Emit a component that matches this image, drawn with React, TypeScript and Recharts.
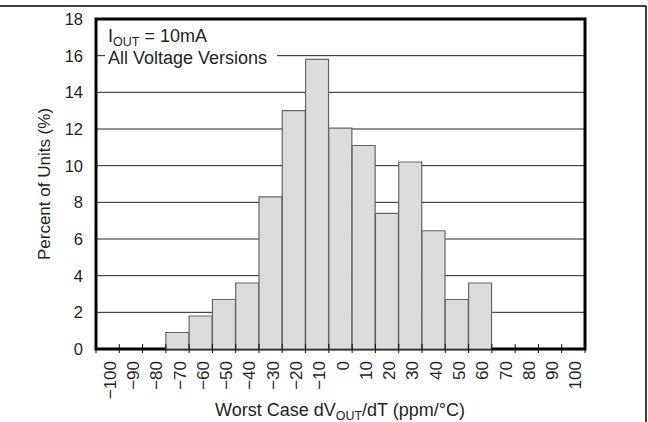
import React from 'react';
import { BarChart, Bar, XAxis, YAxis, CartesianGrid, ReferenceArea } from 'recharts';

// Bin centres (ppm/°C) and percent of units per bin
const binCenters = [-100, -90, -80, -70, -60, -50, -40, -30, -20, -10, 0, 10, 20, 30, 40, 50, 60, 70, 80, 90, 100];
const percentUnits = [0, 0, 0, 0.9, 1.8, 2.7, 3.6, 8.3, 13.0, 15.8, 12.05, 11.1, 7.4, 10.2, 6.45, 2.7, 3.6, 0, 0, 0, 0];
const yTicks = [0, 2, 4, 6, 8, 10, 12, 14, 16, 18];

const data = binCenters.map((b, i) => ({ bin: b, pct: percentUnits[i] > 0 ? percentUnits[i] : null }));

const FONT = '"Liberation Sans", Arial, Helvetica, sans-serif';
const TEXT = '#231f20';

const CHART_W = 648;
const CHART_H = 422;
const MARGIN = { top: 19, right: 63, bottom: 0, left: 0 };
const Y_AXIS_W = 96;
const TICK_MARGIN = 12;
const PLOT_W = CHART_W - MARGIN.left - MARGIN.right - Y_AXIS_W;
const BAND = PLOT_W / binCenters.length;

const fmt = (v: number) => (v < 0 ? '\u2212' + Math.abs(v) : String(v));

const BinTick = (props: any) => {
  const { x, y, payload, index } = props;
  const axisY = y - TICK_MARGIN;
  const last = index === binCenters.length - 1;
  return (
    <g>
      <line x1={x - BAND / 2} x2={x - BAND / 2} y1={axisY - 5} y2={axisY + 4} stroke="#111" strokeWidth={1} />
      {last && <line x1={x + BAND / 2} x2={x + BAND / 2} y1={axisY - 5} y2={axisY + 4} stroke="#111" strokeWidth={1} />}
      <text
        x={x}
        y={y}
        dy={8}
        transform={`rotate(-90 ${x} ${y})`}
        textAnchor="end"
        fontSize={17}
        fill={TEXT}
        fontFamily={FONT}
      >
        {fmt(payload.value)}
      </text>
    </g>
  );
};

const YLabel = (props: any) => {
  const vb = props.viewBox || { x: 0, y: 0, width: 96, height: 329 };
  const cx = vb.x + 50;
  const cy = vb.y + vb.height / 2;
  return (
    <text x={cx} y={cy} transform={`rotate(-90 ${cx} ${cy})`} textAnchor="middle" fontSize={17} fill={TEXT} fontFamily={FONT}>
      Percent of Units (%)
    </text>
  );
};

export default function App() {
  return (
    <div style={{ position: 'absolute', left: 0, top: 0, width: CHART_W, height: CHART_H, background: '#fff', fontFamily: FONT }}>
      <BarChart
        width={CHART_W}
        height={CHART_H}
        data={data}
        margin={MARGIN}
        barCategoryGap={0}
        barGap={0}
        style={{ fontFamily: FONT }}
      >
        <CartesianGrid vertical={false} stroke="#222" strokeWidth={1} />
        <XAxis
          dataKey="bin"
          type="category"
          height={73}
          tickSize={0}
          tickMargin={TICK_MARGIN}
          tickLine={false}
          axisLine={false}
          tick={<BinTick />}
          interval={0}
        />
        <YAxis
          domain={[0, 18]}
          ticks={yTicks}
          interval={0}
          width={Y_AXIS_W}
          tickLine={false}
          tickMargin={7}
          axisLine={false}
          tick={{ fontSize: 16.5, fill: TEXT, fontFamily: FONT }}
          label={<YLabel />}
        />
        <Bar
          dataKey="pct"
          fill="#dcdcdc"
          stroke="#666"
          strokeWidth={1.2}
          isAnimationActive={false}
        />
        <ReferenceArea y1={0} y2={18} fill="none" fillOpacity={0} stroke="#000" strokeWidth={3} ifOverflow="visible" />
      </BarChart>
      <svg width={CHART_W} height={CHART_H} style={{ position: 'absolute', left: 0, top: 0, pointerEvents: 'none' }}>
        <line x1={0} x2={646} y1={6} y2={6} stroke="#000" strokeWidth={1.5} />
        <line x1={646} x2={646} y1={6} y2={422} stroke="#000" strokeWidth={1.5} />
        <rect x={105} y={50} width={172} height={14} fill="#fff" />
        <text x={108} y={42} fontSize={18} fill={TEXT} fontFamily={FONT}>
          I<tspan fontSize={12.5} dy={4}>OUT</tspan>
          <tspan dy={-4}> = 10mA</tspan>
        </text>
        <text x={108} y={64} fontSize={18} fill={TEXT} fontFamily={FONT}>
          All Voltage Versions
        </text>
        <text x={340} y={416} fontSize={18} fill={TEXT} fontFamily={FONT} textAnchor="middle">
          Worst Case dV<tspan fontSize={12.5} dy={4}>OUT</tspan>
          <tspan dy={-4}>/dT (ppm/°C)</tspan>
        </text>
      </svg>
    </div>
  );
}
